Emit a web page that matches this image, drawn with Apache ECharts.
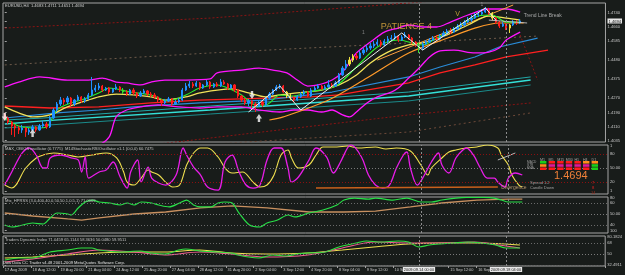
<!DOCTYPE html>
<html><head><meta charset="utf-8">
<script src="https://cdn.jsdelivr.net/npm/echarts@6/dist/echarts.min.js"></script>
<style>html,body{margin:0;padding:0;background:#181c1a;}#c{width:625px;height:275px;}</style>
</head><body><div id="c"></div>
<script>
// ---------- DATA ----------
const timeLabels = ['17 Aug 2009','18 Aug 12:00','19 Aug 20:00','21 Aug 04:00','24 Aug 12:00','25 Aug 20:00','27 Aug 04:00','28 Aug 12:00','31 Aug 20:00','2 Sep 04:00','3 Sep 12:00','4 Sep 20:00','8 Sep 04:00','9 Sep 12:00','10 Sep 20:00','14 Sep 04:00','15 Sep 12:00','16 Sep 20:00','18 Sep 04:00'];
const cursorLabels = {119:'2009.09.14 00:00', 144:'2009.09.18 04:00'};
const slotCount = 173;

const barOpen = [1.4177,1.4160,1.4138,1.4116,1.4105,1.4094,1.4105,1.4083,1.4094,1.4111,
1.4094,1.4116,1.4127,1.4111,1.4160,1.4204,1.4237,1.4259,1.4248,1.4270,
1.4237,1.4259,1.4276,1.4254,1.4265,1.4287,1.4314,1.4325,1.4336,1.4314,
1.4325,1.4303,1.4320,1.4331,1.4314,1.4303,1.4292,1.4314,1.4298,1.4281,
1.4298,1.4309,1.4292,1.4287,1.4276,1.4259,1.4243,1.4254,1.4265,1.4237,
1.4248,1.4259,1.4314,1.4336,1.4347,1.4336,1.4353,1.4325,1.4342,1.4358,
1.4331,1.4347,1.4336,1.4358,1.4347,1.4325,1.4342,1.4314,1.4281,1.4259,
1.4243,1.4254,1.4237,1.4226,1.4248,1.4232,1.4270,1.4292,1.4314,1.4331,
1.4336,1.4303,1.4281,1.4270,1.4259,1.4276,1.4292,1.4303,1.4281,1.4314,
1.4325,1.4336,1.4320,1.4331,1.4342,1.4336,1.4353,1.4397,1.4435,1.4457,
1.4479,1.4501,1.4490,1.4518,1.4534,1.4545,1.4556,1.4567,1.4578,1.4562,
1.4584,1.4595,1.4600,1.4611,1.4589,1.4606,1.4617,1.4600,1.4578,1.4562,
1.4545,1.4567,1.4578,1.4589,1.4600,1.4595,1.4611,1.4628,1.4639,1.4633,
1.4650,1.4661,1.4672,1.4688,1.4699,1.4710,1.4727,1.4732,1.4743,1.4754,
1.4738,1.4710,1.4688,1.4666,1.4677,1.4655,1.4672,1.4688,1.4683];
const barClose = [1.4160,1.4138,1.4116,1.4105,1.4094,1.4105,1.4083,1.4094,1.4111,1.4094,
1.4116,1.4127,1.4111,1.4160,1.4204,1.4237,1.4259,1.4248,1.4270,1.4237,
1.4259,1.4276,1.4254,1.4265,1.4287,1.4314,1.4325,1.4336,1.4314,1.4325,
1.4303,1.4320,1.4331,1.4314,1.4303,1.4292,1.4314,1.4298,1.4281,1.4298,
1.4309,1.4292,1.4287,1.4276,1.4259,1.4243,1.4254,1.4265,1.4237,1.4248,
1.4259,1.4314,1.4336,1.4347,1.4336,1.4353,1.4325,1.4342,1.4358,1.4331,
1.4347,1.4336,1.4358,1.4347,1.4325,1.4342,1.4314,1.4281,1.4259,1.4243,
1.4254,1.4237,1.4226,1.4248,1.4232,1.4270,1.4292,1.4314,1.4331,1.4336,
1.4303,1.4281,1.4270,1.4259,1.4276,1.4292,1.4303,1.4281,1.4314,1.4325,
1.4336,1.4320,1.4331,1.4342,1.4336,1.4353,1.4397,1.4435,1.4457,1.4479,
1.4501,1.4490,1.4518,1.4534,1.4545,1.4556,1.4567,1.4578,1.4562,1.4584,
1.4595,1.4600,1.4611,1.4589,1.4606,1.4617,1.4600,1.4578,1.4562,1.4545,
1.4567,1.4578,1.4589,1.4600,1.4595,1.4611,1.4628,1.4639,1.4633,1.4650,
1.4661,1.4672,1.4688,1.4699,1.4710,1.4727,1.4732,1.4743,1.4754,1.4738,
1.4710,1.4688,1.4666,1.4677,1.4655,1.4672,1.4688,1.4683,1.4694];
const barLow = [1.4149,1.4127,1.4067,1.4056,1.4072,1.4078,1.4056,1.4067,1.4089,1.4083,
1.4089,1.4105,1.4100,1.4105,1.4155,1.4193,1.4226,1.4232,1.4237,1.4226,
1.4226,1.4254,1.4243,1.4243,1.4259,1.4281,1.4303,1.4314,1.4303,1.4309,
1.4292,1.4298,1.4314,1.4303,1.4292,1.4281,1.4287,1.4287,1.4270,1.4276,
1.4292,1.4281,1.4276,1.4265,1.4248,1.4226,1.4237,1.4248,1.4226,1.4232,
1.4243,1.4254,1.4309,1.4325,1.4325,1.4331,1.4314,1.4320,1.4336,1.4320,
1.4325,1.4331,1.4331,1.4342,1.4314,1.4320,1.4303,1.4270,1.4248,1.4232,
1.4226,1.4215,1.4193,1.4221,1.4221,1.4226,1.4265,1.4287,1.4309,1.4320,
1.4298,1.4270,1.4259,1.4248,1.4254,1.4270,1.4281,1.4276,1.4276,1.4309,
1.4320,1.4314,1.4314,1.4325,1.4325,1.4331,1.4347,1.4391,1.4424,1.4446,
1.4468,1.4479,1.4485,1.4507,1.4523,1.4534,1.4545,1.4556,1.4551,1.4556,
1.4573,1.4584,1.4589,1.4578,1.4584,1.4600,1.4589,1.4567,1.4551,1.4518,
1.4534,1.4562,1.4573,1.4584,1.4584,1.4589,1.4606,1.4622,1.4622,1.4628,
1.4644,1.4655,1.4666,1.4683,1.4688,1.4705,1.4716,1.4727,1.4738,1.4727,
1.4699,1.4677,1.4655,1.4661,1.4644,1.4628,1.4666,1.4672,1.4677];
const barHigh = [1.4188,1.4166,1.4144,1.4127,1.4116,1.4122,1.4111,1.4105,1.4122,1.4116,
1.4127,1.4144,1.4138,1.4171,1.4215,1.4248,1.4276,1.4270,1.4281,1.4276,
1.4265,1.4287,1.4281,1.4276,1.4298,1.4386,1.4342,1.4353,1.4342,1.4331,
1.4331,1.4325,1.4347,1.4336,1.4325,1.4314,1.4320,1.4325,1.4303,1.4309,
1.4320,1.4314,1.4303,1.4298,1.4281,1.4265,1.4265,1.4276,1.4270,1.4259,
1.4270,1.4325,1.4353,1.4364,1.4358,1.4364,1.4358,1.4347,1.4369,1.4364,
1.4353,1.4358,1.4375,1.4369,1.4353,1.4347,1.4347,1.4320,1.4287,1.4270,
1.4265,1.4259,1.4248,1.4254,1.4259,1.4276,1.4303,1.4320,1.4342,1.4347,
1.4342,1.4309,1.4292,1.4281,1.4287,1.4303,1.4314,1.4309,1.4325,1.4336,
1.4347,1.4342,1.4342,1.4369,1.4353,1.4364,1.4408,1.4446,1.4479,1.4496,
1.4512,1.4518,1.4529,1.4545,1.4562,1.4573,1.4584,1.4595,1.4589,1.4595,
1.4611,1.4617,1.4628,1.4617,1.4617,1.4633,1.4622,1.4606,1.4584,1.4573,
1.4578,1.4589,1.4600,1.4611,1.4617,1.4622,1.4639,1.4650,1.4655,1.4661,
1.4677,1.4688,1.4699,1.4716,1.4727,1.4738,1.4749,1.4760,1.4771,1.4766,
1.4743,1.4716,1.4694,1.4688,1.4683,1.4677,1.4699,1.4699,1.4705];
const yellowBars = [81,82,99,100,140,145];
const greenBars = [34,119];

// main-window indicators: [bar, price]
const bbUpper = [[0,1.4331],[4,1.4358],[10,1.4386],[18,1.4369],[24,1.4369],[28,1.4380],[32,1.4358],[35,1.4353],[39,1.4342],[42,1.4358],[46,1.4369],[52,1.4369],[59,1.4375],[61,1.4408],[68,1.4424],[73,1.4435],[77,1.4424],[81,1.4408],[84,1.4369],[87,1.4336],[90,1.4342],[94,1.4369],[97,1.4413],[101,1.4518],[105,1.4578],[109,1.4633],[113,1.4655],[116,1.4672],[120,1.4661],[124,1.4661],[128,1.4688],[133,1.4727],[139,1.4760],[144,1.4760],[148,1.4743]];
const bbLower = [[0,1.4007],[10,1.3985],[21,1.3985],[27,1.4012],[30,1.4056],[32,1.4166],[35,1.4204],[39,1.4221],[44,1.4232],[50,1.4221],[56,1.4215],[61,1.4221],[68,1.4221],[73,1.4204],[79,1.4193],[83,1.4204],[87,1.4204],[91,1.4193],[94,1.4204],[97,1.4177],[99,1.4166],[101,1.4193],[104,1.4243],[107,1.4276],[111,1.4303],[113,1.4325],[116,1.4380],[119,1.4435],[122,1.4496],[125,1.4529],[129,1.4534],[135,1.4518],[139,1.4523],[142,1.4545],[144,1.4589],[148,1.4633]];
const maYellow = [[0,1.4221],[4,1.4188],[8,1.4166],[13,1.4177],[18,1.4221],[24,1.4259],[27,1.4276],[32,1.4292],[37,1.4287],[42,1.4276],[46,1.4259],[52,1.4276],[56,1.4298],[65,1.4320],[70,1.4298],[75,1.4276],[79,1.4287],[84,1.4298],[91,1.4314],[96,1.4342],[101,1.4397],[105,1.4463],[110,1.4523],[116,1.4562],[121,1.4578],[127,1.4617],[133,1.4672],[139,1.4721],[144,1.4710],[148,1.4699]];
const maGreen = [[0,1.4160],[4,1.4116],[9,1.4105],[12,1.4111],[15,1.4204],[19,1.4243],[22,1.4259],[27,1.4298],[30,1.4325],[36,1.4303],[42,1.4287],[47,1.4254],[52,1.4287],[56,1.4325],[61,1.4342],[68,1.4287],[72,1.4232],[75,1.4232],[79,1.4287],[83,1.4281],[87,1.4303],[95,1.4336],[101,1.4441],[107,1.4551],[113,1.4589],[120,1.4562],[124,1.4600],[130,1.4661],[136,1.4721],[140,1.4727],[144,1.4688],[148,1.4688]];
const maOrange = [[76,1.4149],[80,1.4166],[93,1.4259],[104,1.4380],[116,1.4518],[128,1.4606],[135,1.4655],[142,1.4683],[149,1.4683]];
const channelOrange = [[107,1.4479],[146,1.4782]];
const maRed = [[0,1.4226],[13,1.4215],[27,1.4221],[42,1.4243],[56,1.4259],[75,1.4270],[88,1.4276],[96,1.4287],[116,1.4353],[125,1.4408],[135,1.4452],[144,1.4496],[156,1.4534]];
const maBlue = [[0,1.4160],[15,1.4188],[27,1.4204],[37,1.4221],[56,1.4243],[75,1.4259],[94,1.4303],[116,1.4386],[125,1.4441],[135,1.4496],[142,1.4551],[153,1.4600]];
const maCyan = [[0,1.4127],[11,1.4144],[59,1.4204],[116,1.4281],[151,1.4369]];
const maTeal1 = [[0,1.4149],[11,1.4160],[59,1.4226],[116,1.4303],[151,1.4386]];
const maTeal2 = [[0,1.4105],[59,1.4182],[116,1.4254],[151,1.4342]];
const envTop = [[0,1.4655],[59,1.4710],[116,1.4793],[159,1.4865]];
const envMid = [[0,1.4452],[59,1.4518],[116,1.4573],[153,1.4611]];
const envLow1 = [[42,1.4012],[116,1.4177],[151,1.4243]];
const envLow2 = [[56,1.4012],[116,1.4083],[151,1.4188]];
const envDrop = [[148,1.4617],[153,1.4369]];
const zigzag = [[70,1.4193],[79,1.4336],[85,1.4204],[114,1.4628],[120,1.4534],[138,1.4766],[141,1.4699]];
const trendWhite = [[139,1.4699],[150,1.4683]];
const arrowsDown = [[0,1.4166],[71,1.4287]];
const arrowsUp = [[8,1.4078],[73,1.4160]];
const patienceNote = [108,1.4661];
const vNote = [130,1.4732];
const breakNote = [149,1.4721];
const waveMarks = [[103,1.4628],[137,1.4782]];
const priceTicks = [1.4740,1.4694,1.4660,1.4585,1.4480,1.4375,1.4270,1.4190,1.4110,1.4035];
const lastPrice = 1.4694;

// oscillator window
const oscYellow = [[0,13.5],[2,7.1],[6,50],[9,71.5],[11,77.9],[14,82.2],[18,77.9],[21,73.6],[25,77.9],[29,82.2],[32,71.5],[34,41.4],[35,19.9],[37,13.5],[39,28.5],[41,45.7],[42,41.4],[44,35],[46,19.9],[48,9.2],[50,13.5],[52,56.4],[54,82.2],[56,92.9],[58,92.9],[61,73.6],[63,50],[65,39.3],[68,41.4],[71,19.9],[73,9.2],[75,13.5],[77,35],[79,77.9],[81,88.6],[82,71.5],[84,50],[87,56.4],[89,77.9],[91,95.1],[95,95.1],[98,97.2],[101,92.9],[106,95.1],[109,90.8],[112,92.9],[116,86.5],[119,56.4],[121,35],[122,50],[125,71.5],[127,84.3],[129,88.6],[132,92.9],[135,95.1],[138,99.4],[141,92.9],[142,77.9],[144,56.4],[145,35],[147,13.5],[148,9.2]];
const oscMagenta = [[0,13.5],[2,41.4],[5,82.2],[7,92.9],[9,77.9],[11,50],[12,50],[13,71.5],[16,77.9],[19,71.5],[21,67.2],[22,41.4],[23,73.6],[24,28.5],[27,41.4],[29,45.7],[31,62.9],[33,30.7],[35,7.1],[36,41.4],[38,67.2],[39,19.9],[41,52.1],[42,28.5],[44,17.8],[46,13.5],[49,35],[51,92.9],[52,77.9],[54,52.1],[56,35],[58,9.2],[61,2.8],[63,62.9],[65,77.9],[67,41.4],[69,13.5],[71,7.1],[73,13.5],[75,67.2],[77,92.9],[79,92.9],[81,50],[82,19.9],[84,30.7],[87,67.2],[89,92.9],[92,73.6],[94,39.3],[96,62.9],[98,92.9],[99,99.4],[102,73.6],[104,35],[106,13.5],[108,7.1],[110,13.5],[112,50],[114,77.9],[115,84.3],[116,50],[118,13.5],[120,35],[122,62.9],[124,82.2],[125,56.4],[127,39.3],[129,71.5],[131,88.6],[132,92.9],[134,77.9],[136,50],[138,28.5],[140,28.5],[141,19.9],[143,9.2],[144,28.5],[146,39.3],[148,35]];
const oscDivergence = [[89,7.1],[141,9.2]];
const oscWhite = [[141,67.2],[146,82.2]];
const divergenceNote = [142,9];
const oscLevels = [80,50,20];
const oscAxisLabels = {97:'1', 80:'80', 50:'50.00', 20:'20', 1:'1'};

// HPRSS window
const rsiGreen = [[0,40],[2,38.2],[4,39.1],[8,41.8],[11,40.9],[13,46.4],[15,50.9],[18,50],[19,49.1],[21,55.5],[23,60.9],[25,62.7],[27,60.9],[30,60],[33,58.2],[35,60],[37,58.2],[39,60.9],[42,60],[44,58.2],[47,56.4],[50,60],[52,62.7],[54,58.2],[56,56.4],[59,56.4],[61,60],[63,60.9],[65,60],[67,50.9],[70,40],[73,38.2],[75,41.8],[78,44.5],[81,49.1],[83,47.3],[87,50.9],[91,53.6],[95,58.2],[97,62.7],[100,64.5],[104,63.6],[106,64.5],[111,62.7],[115,64.5],[119,60.9],[122,60.9],[125,62.7],[129,64.5],[132,65.2],[137,65.2],[140,64.5],[142,62.7],[144,60.9],[148,60.9]];
const rsiSlow = [[0,50.9],[8,48.2],[18,45.5],[22,44.5],[27,46.4],[37,50],[46,51.8],[56,55.5],[65,57.3],[75,55.5],[87,51.8],[97,51.8],[106,52.7],[116,56.4],[125,60],[135,62.7],[144,63.6],[148,63.6]];
const rsiLevels = [60,50,40];
const rsiAxisLabels = {64.5:'80', 60:'60', 50:'50.00', 40:'40', 35:'100'};

// TDI window
const tdiYellow = [[0,43.5],[8,45.1],[18,48.4],[27,51.6],[37,53.3],[46,53.3],[56,56.5],[65,51.6],[75,50],[87,51.6],[97,56.5],[106,61.5],[116,66.4],[125,68],[135,68],[144,66.4],[148,64.7]];
const tdiGreen = [[0,40.2],[4,43.5],[8,43.5],[13,53.3],[18,56.5],[22,59.8],[25,59.8],[27,56.5],[33,53.3],[39,54.9],[42,51.6],[46,50],[50,56.5],[52,58.2],[56,54.9],[61,53.3],[65,51.6],[67,48.4],[70,45.1],[73,43.5],[77,48.4],[81,46.7],[84,50],[87,51.6],[92,53.3],[96,61.5],[101,68],[104,71.3],[108,69.6],[113,71.3],[116,69.6],[119,61.5],[122,64.7],[125,66.4],[129,68],[133,69.6],[137,68],[141,64.7],[144,59.8],[146,59.8],[148,59.8]];
const tdiPink = [[0,36.9],[8,41.8],[18,50],[27,56.5],[37,53.3],[46,48.4],[56,53.3],[65,50],[75,45.1],[87,48.4],[97,59.8],[106,69.6],[116,68],[125,68],[135,69.6],[142,64.7],[148,59.8]];
const tdiLevels = [68,50,32];
const tdiAxisLabels = {78:'80.1824', 68:'68', 50:'50', 32:'32.4911'};

// signal table (panel 2)
const tableCols = ['M1','M5','M15','M30','H1','H4','D1'];
const tableRows = ['MACD','STR','EMA'];
const tableColors = [
  ['#19d019','#ff1a1a','#ff1a1a','#ff1a1a','#ff1a1a','#ff8c1a','#ff8c1a'],
  ['#ff8c1a','#e0189a','#e0189a','#e0189a','#e0189a','#e0189a','#19d019'],
  ['#ff1a1a','#ff1a1a','#ff1a1a','#ff1a1a','#ff1a1a','#ff1a1a','#19d019']];

// ---------- CHART ----------
const chart = echarts.init(document.getElementById('c'), null, {width:625, height:275, renderer:'canvas'});
const FF = 'Liberation Sans, Arial, sans-serif';
const FS = 4.1;
const LBL = '#c8c8c8';
const cats = Array.from({length: slotCount}, (_, i) => String(i));
const candles = barOpen.map((o, i) => {
  const item = {value:[o, barClose[i], barLow[i], barHigh[i]]};
  const c = yellowBars.includes(i) ? '#f0e040' : (greenBars.includes(i) ? '#30e030' : null);
  if (c) item.itemStyle = {color:c, color0:c, borderColor:c, borderColor0:c};
  return item;
});

const grids = [
  {top:3, height:139}, {top:145, height:49}, {top:197, height:36}, {top:236, height:30}
].map(g => Object.assign({left:3, right:17, show:true, borderColor:'#a4a4a4', borderWidth:1, backgroundColor:'transparent'}, g));

const valX = g => ({type:'value', gridIndex:g, min:-0.5, max:slotCount-0.5, show:false});
function yAx(g, min, max, vals, fmt) {
  return {type:'value', gridIndex:g, position:'right', min, max, scale:true,
    splitLine:{show:false}, axisLine:{show:false},
    axisTick:{show:true, length:2, customValues:vals, lineStyle:{color:'#a0a0a0'}},
    axisLabel:{customValues:vals, formatter:fmt, color:LBL, fontSize:FS, fontFamily:FF, margin:2, rich:{cur:{backgroundColor:'#e6e6e6', color:'#101010', fontSize:FS, padding:[1,1,0,1]}}}};
}
const labelFromMap = m => v => { for (const k in m) { if (Math.abs(+k - v) < 1e-6) return m[k]; } return ''; };

function L(data, g, color, width, extra) {
  return Object.assign({type:'line', xAxisIndex:g === 0 ? 1 : g + 1, yAxisIndex:g, data, symbol:'none', silent:true,
    animation:false, lineStyle:{color, width}, z:2}, extra || {});
}
function D(data, g, color, width, dash) { return L(data, g, color, width, {lineStyle:{color, width, type:dash}}); }
function marks(levels, levelColors) {
  const d = [{xAxis:119}, {xAxis:144}].map(o => Object.assign(o, {lineStyle:{color:'#8c8c8c', type:[2,2], width:1}}));
  (levels || []).forEach((v, i) => d.push({yAxis:v, lineStyle:{color:levelColors[i], type:[1,2], width:1}}));
  return {silent:true, symbol:'none', label:{show:false}, data:d, animation:false};
}
function note(pos, g, text, color, size, position) {
  return {type:'scatter', xAxisIndex:g === 0 ? 1 : g + 1, yAxisIndex:g, data:[pos], symbolSize:0, silent:true, animation:false, z:6,
    label:{show:true, position, distance:0, formatter:text, color, fontSize:size, fontFamily:FF}, labelLayout:{hideOverlap:false}};
}

const series = [
  // main window
  D(envTop, 0, '#8a1414', 1, [2,2]),
  D(envMid, 0, '#6e5a4a', 1, [2,3]),
  D(envLow1, 0, '#8a1414', 1, [2,2]),
  D(envLow2, 0, '#6e4a3a', 1, [2,3]),
  D(envDrop, 0, '#8a1414', 1, [2,2]),
  L(maTeal2, 0, '#1a8a8a', 1),
  L(maTeal1, 0, '#20a8a8', 1),
  L(maCyan, 0, '#34e0d8', 1.4),
  Object.assign(L(maRed, 0, '#ff2020', 1.3), {markLine: marks([], [])}),
  L(maBlue, 0, '#2a8cd8', 1.2),
  L(bbUpper, 0, '#ff14ff', 1.3, {smooth:0.3}),
  L(bbLower, 0, '#ff14ff', 1.3, {smooth:0.3}),
  L(maOrange, 0, '#ff9a2a', 1.2, {smooth:0.3}),
  L(channelOrange, 0, '#ffa040', 1),
  L(maYellow, 0, '#f2e25a', 1.3, {smooth:0.3}),
  L(maGreen, 0, '#2af02a', 1.1, {smooth:0.3}),
  {type:'candlestick', xAxisIndex:0, yAxisIndex:0, data:candles, barMaxWidth:2.6, silent:true, animation:false, z:3,
    itemStyle:{color:'#1e90ff', color0:'#ff1c1c', borderColor:'#1e90ff', borderColor0:'#ff1c1c', borderWidth:1}},
  L(zigzag, 0, '#f0f0f0', 1, {z:4}),
  L(trendWhite, 0, '#d8d8d8', 0.8, {z:4}),
  {type:'scatter', xAxisIndex:1, yAxisIndex:0, data:arrowsDown, symbol:'path://M3,0 L7,0 L7,5 L10,5 L5,11 L0,5 L3,5 Z', symbolSize:[6,8], itemStyle:{color:'#ffffff'}, silent:true, animation:false, z:5},
  {type:'scatter', xAxisIndex:1, yAxisIndex:0, data:arrowsUp, symbol:'path://M3,11 L7,11 L7,6 L10,6 L5,0 L0,6 L3,6 Z', symbolSize:[6,8], itemStyle:{color:'#ffffff'}, silent:true, animation:false, z:5},
  note(patienceNote, 0, 'PATIENCE 4', '#e8b040', 9, 'right'),
  note(vNote, 0, 'V', '#e8c040', 7, 'inside'),
  note(breakNote, 0, 'Trend Line Break', '#c8c8c8', 5, 'right'),
  {type:'scatter', xAxisIndex:1, yAxisIndex:0, data:waveMarks, symbolSize:0, silent:true, animation:false,
    label:{show:true, position:'inside', formatter:'1', color:'#9a9a9a', fontSize:5, fontFamily:FF}},
  // oscillator window
  Object.assign(L(oscYellow, 1, '#f0e050', 1.1, {smooth:0.35}), {markLine: marks(oscLevels, ['#8a1010','#7a7a7a','#8a1010'])}),
  L(oscMagenta, 1, '#e81ce8', 1.3, {smooth:0.35}),
  L(oscDivergence, 1, '#c8601c', 1.6),
  L(oscWhite, 1, '#e0e0e0', 0.8),
  note(divergenceNote, 1, 'Divergence', '#d8b080', 5, 'right'),
  // HPRSS window
  Object.assign(L(rsiSlow, 2, '#c89060', 1.3), {markLine: marks(rsiLevels, ['#6a6a6a','#7a7a7a','#6a6a6a'])}),
  L(rsiGreen, 2, '#28e048', 1.2, {smooth:0.3}),
  // TDI window
  Object.assign(L(tdiYellow, 3, '#f0e050', 1.1, {smooth:0.3}), {markLine: marks(tdiLevels, ['#6a6a6a','#7a7a7a','#6a6a6a'])}),
  L(tdiPink, 3, '#f06090', 1.1, {smooth:0.3}),
  L(tdiGreen, 3, '#30e040', 1.1, {smooth:0.3})
];

const showTime = idx => idx % 8 === 0 && idx / 8 < timeLabels.length && !cursorLabels[idx] && !cursorLabels[idx - 1];
const option = {
  backgroundColor:'#181c1a',
  animation:false,
  grid: grids,
  xAxis: [
    {type:'category', gridIndex:0, data:cats, boundaryGap:true, show:false},
    valX(0), valX(1), valX(2), valX(3),
    {type:'category', gridIndex:3, data:cats, boundaryGap:true, position:'bottom',
      axisLine:{show:false},
      axisTick:{show:true, interval:showTime, length:2, lineStyle:{color:'#a0a0a0'}},
      axisLabel:{interval:showTime, formatter:(v, idx) => timeLabels[idx / 8] || '', color:LBL, fontSize:3.9, fontFamily:FF, align:'left', margin:2, hideOverlap:false}},
    {type:'category', gridIndex:3, data:cats, boundaryGap:true, position:'bottom',
      axisLine:{show:false}, axisTick:{show:false},
      axisLabel:{interval:idx => !!cursorLabels[idx], formatter:(v, idx) => '{h|' + (cursorLabels[idx] || '') + '}', margin:1, hideOverlap:false,
        rich:{h:{backgroundColor:'#e8e8e8', color:'#181818', fontSize:3.9, fontFamily:FF, padding:[1,1,0,1]}}}}
  ],
  yAxis: [
    yAx(0, 1.4028, 1.4793, priceTicks, v => Math.abs(v - lastPrice) < 1e-6 ? '{cur|' + v.toFixed(4) + '}' : v.toFixed(4)),
    yAx(1, -5.7, 99.3, [97,80,50,20,1], labelFromMap(oscAxisLabels)),
    yAx(2, 32.73, 65.45, [64.5,60,50,40,35], labelFromMap(rsiAxisLabels)),
    yAx(3, 30.37, 79.45, [78,68,50,32], labelFromMap(tdiAxisLabels))
  ],
  series,
  graphic: []
};

// panel texts and signal table
const G = option.graphic;
const txt = (x, y, text, fill, size, extra) => G.push({type:'text', x, y, silent:true, z:20,
  style:Object.assign({text, fill, fontSize:size || FS, fontFamily:FF, textVerticalAlign:'top'}, extra || {})});
txt(5, 4, 'EURUSD,H4  1.4683 1.4711 1.4651 1.4694', '#d0d0d0');
txt(5, 146.5, 'MAX_OB/OS oscillator (0.7775)  M14StochasticRSIOscillator v1.1 (0,0,0) 60.7475', '#c0c0c0');
txt(5, 198.5, 'Mtx_HPRSS (3,0,400,40,0,50,50,1,0.5,1) 71.0069', '#c0c0c0');
txt(5, 237.5, 'Traders Dynamic Index 71.0459 65.1144 58.3636 50.0480 59.9511', '#c0c0c0');
txt(3, 260.5, 'Dow Data CC Trader v4.48 2001-2009 MetaQuotes Software Corp.', '#e0e0e0');
tableCols.forEach((c, j) => txt(540 + j * 8.6, 157.5, c, '#a8a8a8', 3.6));
tableRows.forEach((r, i) => {
  txt(527, 160.5 + i * 3.2, r, '#a0a0a0', 3.2);
  tableColors[i].forEach((col, j) => G.push({type:'rect', silent:true, z:20, shape:{x:540 + j * 8.6, y:161 + i * 3.2, width:6.4, height:2.6}, style:{fill:col}}));
});
txt(554, 170, '1.4694', '#f08038', 11);
txt(530, 181, 'Spread 1.2', '#a0a0a0', 4);
txt(592, 181, '7', '#e02020', 4.2);
txt(530, 186, 'Candle Down', '#a0a0a0', 4);
txt(592, 186, '8', '#e02020', 4.2);
txt(591, 191, '14', '#a03020', 4);

chart.setOption(option);
</script></body></html>
